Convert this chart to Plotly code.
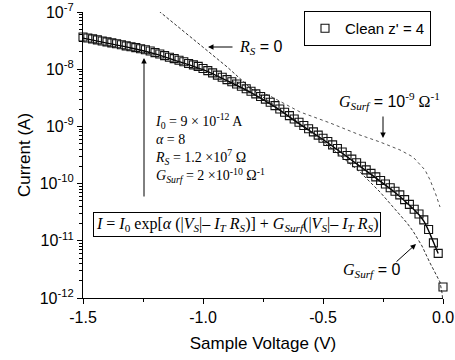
import plotly.graph_objects as go

# ---------------- data ----------------
v_data = [-1.50, -1.48, -1.46, -1.44, -1.42, -1.40, -1.38, -1.36, -1.34, -1.32,
          -1.30, -1.28, -1.26, -1.24, -1.22, -1.20, -1.18, -1.16, -1.14, -1.12,
          -1.10, -1.08, -1.06, -1.04, -1.02, -1.00, -0.98, -0.96, -0.94, -0.92,
          -0.90, -0.88, -0.86, -0.84, -0.82, -0.80, -0.78, -0.76, -0.74, -0.72,
          -0.70, -0.68, -0.66, -0.64, -0.62, -0.60, -0.58, -0.56, -0.54, -0.52,
          -0.50, -0.48, -0.46, -0.44, -0.42, -0.40, -0.38, -0.36, -0.34, -0.32,
          -0.30, -0.28, -0.26, -0.24, -0.22, -0.20, -0.18, -0.16, -0.14, -0.12,
          -0.10, -0.08, -0.06, -0.04, -0.02, 0.00]
i_data = [3.66e-8, 3.51e-8, 3.39e-8, 3.25e-8, 3.12e-8, 3.00e-8, 2.89e-8, 2.78e-8, 2.67e-8, 2.56e-8,
          2.47e-8, 2.38e-8, 2.28e-8, 2.19e-8, 2.08e-8, 1.95e-8, 1.84e-8, 1.73e-8, 1.62e-8, 1.53e-8,
          1.43e-8, 1.35e-8, 1.26e-8, 1.19e-8, 1.12e-8, 1.03e-8, 9.45e-9, 8.62e-9, 7.88e-9, 7.22e-9,
          6.58e-9, 6.02e-9, 5.51e-9, 5.02e-9, 4.56e-9, 4.11e-9, 3.70e-9, 3.33e-9, 3.00e-9, 2.65e-9,
          2.31e-9, 2.02e-9, 1.77e-9, 1.54e-9, 1.35e-9, 1.18e-9, 1.04e-9, 9.12e-10, 8.01e-10, 7.05e-10,
          6.19e-10, 5.44e-10, 4.75e-10, 4.11e-10, 3.57e-10, 3.09e-10, 2.68e-10, 2.32e-10, 2.01e-10, 1.74e-10,
          1.51e-10, 1.31e-10, 1.13e-10, 9.84e-11, 8.48e-11, 7.34e-11, 6.34e-11, 5.25e-11, 4.33e-11, 3.57e-11,
          2.94e-11, 2.32e-11, 1.58e-11, 9.19e-12, 6.02e-12, 1.56e-12]

v_fit = [-1.5, -1.4, -1.3, -1.2, -1.1, -1.0, -0.9, -0.8, -0.7, -0.6, -0.5, -0.4,
         -0.3, -0.2, -0.15, -0.1, -0.08, -0.06, -0.04, -0.02]
i_fit = [3.5e-8, 2.85e-8, 2.35e-8, 1.85e-8, 1.36e-8, 9.8e-9, 6.3e-9, 3.9e-9, 2.2e-9,
         1.12e-9, 5.9e-10, 2.95e-10, 1.45e-10, 7.0e-11, 4.6e-11, 2.85e-11, 2.2e-11,
         1.5e-11, 9.5e-12, 6.0e-12]

v_rs0 = [-1.2, -1.1, -1.0, -0.9, -0.8, -0.75, -0.7]
i_rs0 = [1.18e-7, 5.4e-8, 2.4e-8, 1.1e-8, 4.6e-9, 3.2e-9, 2.3e-9]

v_g9 = [-0.88, -0.846, -0.804, -0.721, -0.596, -0.471, -0.346, -0.2625, -0.179,
        -0.125, -0.075, -0.054, -0.029, -0.0125]
i_g9 = [6.1e-9, 5.51e-9, 4.69e-9, 3.40e-9, 1.79e-9, 1.15e-9, 7.07e-10, 5.34e-10,
        3.87e-10, 2.92e-10, 1.73e-10, 1.16e-10, 6.32e-11, 3.90e-11]

v_g0 = [-0.62, -0.596, -0.471, -0.346, -0.2625, -0.208, -0.15, -0.125, -0.0875,
        -0.054, -0.029, -0.0125, -0.004, -0.002]
i_g0 = [1.35e-9, 1.10e-9, 4.37e-10, 1.60e-10, 7.13e-11, 3.90e-11, 2.05e-11, 1.48e-11,
        8.1e-12, 4.09e-12, 2.52e-12, 1.9e-12, 1.22e-12, 1.0e-12]

x_ticks = [-1.5, -1.0, -0.5, 0.0]
x_tick_text = ["-1.5", "-1.0", "-0.5", "0.0"]
x_minor = [-1.25, -0.75, -0.25]
y_ticks = [1e-12, 1e-11, 1e-10, 1e-9, 1e-8, 1e-7]
y_tick_text = ["10<sup>-12</sup>", "10<sup>-11</sup>", "10<sup>-10</sup>",
               "10<sup>-9</sup>", "10<sup>-8</sup>", "10<sup>-7</sup>"]
y_minor = [k * 10.0 ** e for e in range(-12, -7) for k in range(2, 10)]

# ---------------- layout geometry ----------------
W, H = 455, 360
L, R, T, B = 83, 12, 12, 62
PW, PH = W - L - R, H - T - B
SANS = "Liberation Sans, Arial, sans-serif"
SERIF = "Liberation Serif, Times New Roman, serif"


def px(xp):
    return (xp - L) / PW


def py(yp):
    return (H - B - yp) / PH


fig = go.Figure()

fig.add_trace(go.Scatter(x=v_g9, y=i_g9, mode="lines", showlegend=False,
                         line=dict(color="#555", width=1, dash="dot")))
fig.add_trace(go.Scatter(x=v_g0, y=i_g0, mode="lines", showlegend=False,
                         line=dict(color="#333", width=1, dash="3px,2px")))
fig.add_trace(go.Scatter(x=v_rs0, y=i_rs0, mode="lines", showlegend=False,
                         line=dict(color="#333", width=1, dash="3px,2px")))
fig.add_trace(go.Scatter(x=v_fit, y=i_fit, mode="lines", showlegend=False,
                         line=dict(color="black", width=1.4, shape="spline")))
fig.add_trace(go.Scatter(x=v_data, y=i_data, mode="markers", name="Clean z' = 4",
                         cliponaxis=False,
                         marker=dict(symbol="square-open", size=8, color="#111",
                                     line=dict(width=1.1, color="#111"))))

axis_common = dict(showgrid=False, zeroline=False, showline=True, linecolor="black",
                   linewidth=1.2, automargin=False)

fig.update_layout(
    width=W, height=H,
    margin=dict(l=L, r=R, t=T, b=B, autoexpand=False),
    paper_bgcolor="white", plot_bgcolor="white",
    font=dict(family=SANS, size=16, color="black"),
    xaxis=dict(range=[-1.5, 0.0], tickvals=x_ticks, ticktext=x_tick_text,
               ticks="outside", ticklen=5, tickwidth=1, tickcolor="black",
               minor=dict(tickvals=x_minor, ticks="outside",
                          ticklen=3, tickcolor="black"),
               title=dict(text="Sample Voltage (V)", font=dict(size=17), standoff=11),
               tickfont=dict(size=16), **axis_common),
    yaxis=dict(type="log", range=[-12, -7], tickvals=y_ticks, ticktext=y_tick_text,
               ticks="outside", ticklen=5, tickwidth=1, tickcolor="black",
               minor=dict(tickvals=y_minor, ticks="outside", ticklen=3,
                          tickcolor="black"),
               title=dict(text="Current (A)", font=dict(size=17), standoff=4),
               tickfont=dict(size=16), **axis_common),
    xaxis2=dict(range=[-1.5, 0.0], overlaying="x", anchor="y", side="top",
                tickvals=x_ticks + x_minor, ticks="inside", ticklen=4,
                showticklabels=False, tickcolor="black", **axis_common),
    yaxis2=dict(type="log", range=[-12, -7], overlaying="y", anchor="x", side="right",
                tickvals=y_ticks, ticks="inside", ticklen=5, tickcolor="black",
                minor=dict(tickvals=y_minor, ticks="inside", ticklen=3,
                           tickcolor="black"),
                showticklabels=False, **axis_common),
    legend=dict(x=px(431), xanchor="right", y=py(11), yanchor="top",
                bordercolor="black", borderwidth=1, bgcolor="white",
                font=dict(family=SANS, size=15), itemwidth=30,
                tracegroupgap=0),
    showlegend=True,
)

ann = []


def arrow(tip, tail):
    ann.append(dict(xref="paper", yref="paper", x=px(tip[0]), y=py(tip[1]),
                    axref="pixel", ayref="pixel",
                    ax=tail[0] - tip[0], ay=tail[1] - tip[1], text="",
                    showarrow=True, arrowhead=2, arrowsize=1.1, arrowwidth=1,
                    arrowcolor="black"))


def text(x, y, s, size=15, family=SERIF, anchor="left", **kw):
    d = dict(xref="paper", yref="paper", x=px(x), y=py(y), text=s, showarrow=False,
             xanchor=anchor, yanchor="middle",
             font=dict(family=family, size=size, color="black"))
    d.update(kw)
    ann.append(d)


arrow((208, 47), (234, 47))
text(237, 47, "<i>R<sub>S</sub></i><span style='font-family:Liberation Sans'> = 0</span>", size=16)

arrow((144, 58), (144, 198))

text(153, 148,
     "<i>I</i><sub>0</sub> = 9 × 10<sup>-12</sup> A<br>"
     "<i>α</i> = 8<br>"
     "<i>R<sub>S</sub></i> = 1.2 ×10<sup>7</sup> Ω<br>"
     "<i>G<sub>Surf</sub></i> = 2 ×10<sup>-10</sup> Ω<sup>-1</sup>",
     size=14, align="left")

text(236.5, 224.5,
     "<i>I</i> = <i>I</i><sub>0</sub> exp[<i>α</i> (|<i>V<sub>S</sub></i>|– <i>I<sub>T</sub> R<sub>S</sub></i>)]"
     " + <i>G<sub>Surf</sub></i>(|<i>V<sub>S</sub></i>|– <i>I<sub>T</sub> R<sub>S</sub></i>)",
     size=16, anchor="center", bordercolor="black", borderwidth=1, borderpad=2,
     bgcolor="white")

text(337, 101, "<i>G<sub>Surf</sub></i><span style='font-family:Liberation Sans'> = 10</span><sup>-9</sup> Ω<sup>-1</sup>", size=16)
arrow((383, 138), (383, 115))

text(341, 270, "<i>G<sub>Surf</sub></i><span style='font-family:Liberation Sans'> = 0</span>", size=16)
arrow((416, 244), (395, 263))

fig.update_layout(annotations=ann)

fig.write_html("out.html")
